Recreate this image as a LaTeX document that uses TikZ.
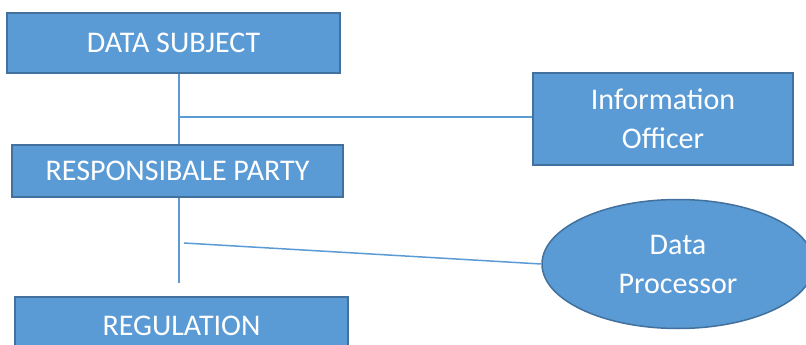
\documentclass[tikz,border=0pt]{standalone}
\usepackage{fontspec}
\setmainfont{Carlito}
\usetikzlibrary{shapes.geometric}
\definecolor{boxblue}{HTML}{5B9BD5}
\definecolor{edgeblue}{HTML}{41719C}

\begin{document}
\begin{tikzpicture}[x=1pt,y=-1pt,
    box/.style={draw=edgeblue,fill=boxblue,line width=1.5pt,text=white,
      inner sep=0pt,font=\fontsize{30}{39}\selectfont,align=center},
    link/.style={draw=boxblue,line width=1.5pt}]
  \useasboundingbox (0,0) rectangle (806,345);
  \clip (0,0) rectangle (806,345);
  \node[box,minimum width=333pt,minimum height=60pt] (ds) at (173.5,43) {DATA SUBJECT};
  \node[box,minimum width=331pt,minimum height=52pt] (rp) at (177.5,171) {RESPONSIBALE PARTY};
  \node[box,minimum width=260pt,minimum height=92pt] (io) at (663,119) {Information\\Officer};
  \node[box,ellipse,minimum width=272pt,minimum height=129pt] (dp) at (678,264) {Data\\Processor};
  \node[box,minimum width=333pt,minimum height=58pt] (reg) at (181.5,326) {REGULATION};
  \coordinate (j1) at (179,117);
  \coordinate (j2) at (184,243);
  \coordinate (e1) at (179,283);
  \draw[link] (ds.south -| j1) -- (rp.north -| j1);
  \draw[link] (j1) -- (j1 -| io.west);
  \draw[link] (rp.south -| e1) -- (e1);
  \draw[link] (j2) -- (dp.west);
\end{tikzpicture}
\end{document}
